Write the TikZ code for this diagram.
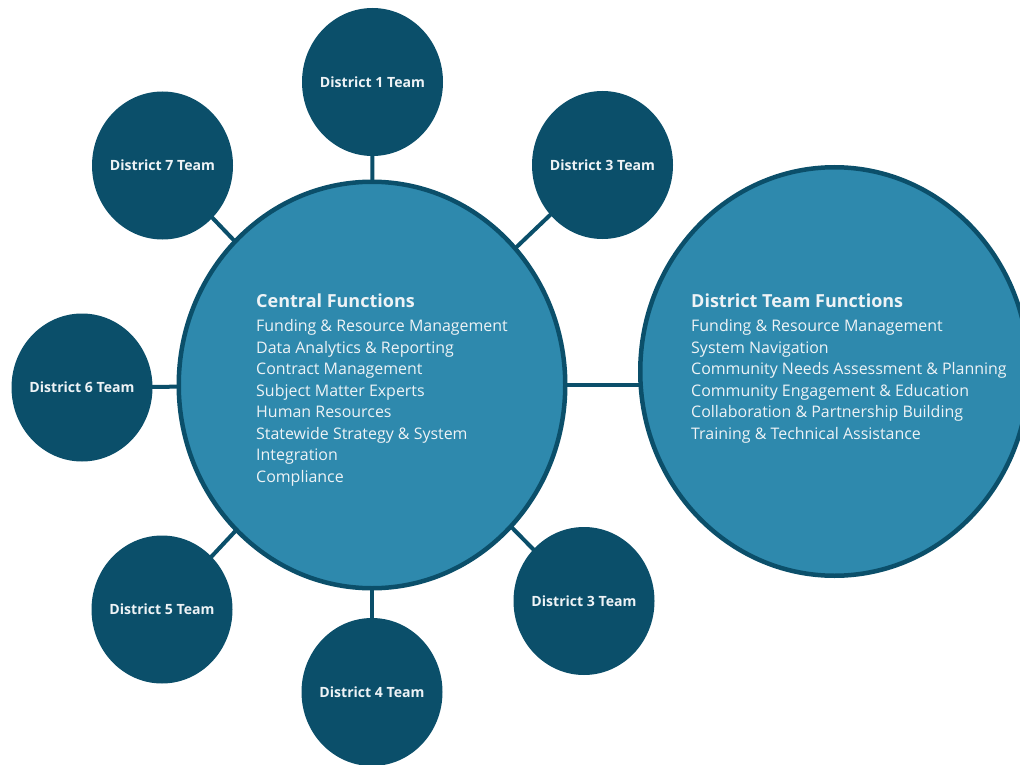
\documentclass[tikz,border=0pt]{standalone}
\usepackage{fontspec}
\setmainfont{Open Sans}
\usetikzlibrary{shapes.geometric,backgrounds}
\definecolor{dteal}{HTML}{0B4F6A}
\definecolor{lteal}{HTML}{2E89AD}
\definecolor{txt}{HTML}{EEF3F6}
\begin{document}
\begin{tikzpicture}[x=1pt,y=-1pt,
  team/.style={ellipse, fill=dteal, minimum width=141pt, minimum height=148pt, inner sep=0pt},
  teamlbl/.style={inner sep=0pt, text=txt, font=\bfseries\fontsize{14.1}{16}\selectfont},
  hub/.style={ellipse, fill=lteal, draw=dteal, line width=4.5pt, inner sep=0pt},
  link/.style={draw=dteal, line width=4pt},
  head/.style={anchor=base west, inner sep=0pt, text=txt, font=\bfseries\fontsize{18}{20}\selectfont},
  item/.style={anchor=base west, inner sep=0pt, text=txt, font=\fontsize{15.95}{18}\selectfont}]
\useasboundingbox (0,0) rectangle (1020,765);
\clip (0,0) rectangle (1020,765);

% hubs
\node[hub, minimum width=386.5pt, minimum height=406.5pt] (central) at (372,385) {};
\node[hub, minimum width=388.5pt, minimum height=408.5pt] (right) at (834.5,371.5) {};

% teams
\node[team] (d1) at (372.5,82) {};
\node[team] (d3a) at (602.5,165) {};
\node[team] (d7) at (162.5,165.5) {};
\node[team] (d6) at (82,387.5) {};
\node[team] (d5) at (162,609.5) {};
\node[team] (d4) at (372,692) {};
\node[team] (d3b) at (584,601) {};

\node[teamlbl] (l1) at (d1) {District 1 Team};
\node[teamlbl] (l3a) at (d3a) {District 3 Team};
\node[teamlbl] (l7) at (d7) {District 7 Team};
\node[teamlbl] (l6) at (d6) {District 6 Team};
\node[teamlbl] (l5) at (d5) {District 5 Team};
\node[teamlbl] (l4) at (d4) {District 4 Team};
\node[teamlbl] (l3b) at (d3b) {District 3 Team};

% connectors
\begin{scope}[on background layer]
  \foreach \t in {d1,d3a,d7,d6,d5,d4,d3b} {\draw[link] (central.center) -- (\t.center);}
  \draw[link] (central.center) -- (central.center -| right.center);
\end{scope}

% texts
\node[head] (ch) at (256,307) {Central Functions};
\node[item] (c1) at (256,331.5) {Funding \& Resource Management};
\node[item] (c2) at (256,353) {Data Analytics \& Reporting};
\node[item] (c3) at (256,374.5) {Contract Management};
\node[item] (c4) at (256,396) {Subject Matter Experts};
\node[item] (c5) at (256,417.5) {Human Resources};
\node[item] (c6) at (256,439) {Statewide Strategy \& System};
\node[item] (c7) at (256,460.5) {Integration};
\node[item] (c8) at (256,482) {Compliance};

\node[head] (rh) at (691,307) {District Team Functions};
\node[item] (r1) at (691,331.5) {Funding \& Resource Management};
\node[item] (r2) at (691,353) {System Navigation};
\node[item] (r3) at (691,374.5) {Community Needs Assessment \& Planning};
\node[item] (r4) at (691,396) {Community Engagement \& Education};
\node[item] (r5) at (691,417.5) {Collaboration \& Partnership Building};
\node[item] (r6) at (691,439) {Training \& Technical Assistance};
\end{tikzpicture}
\end{document}
